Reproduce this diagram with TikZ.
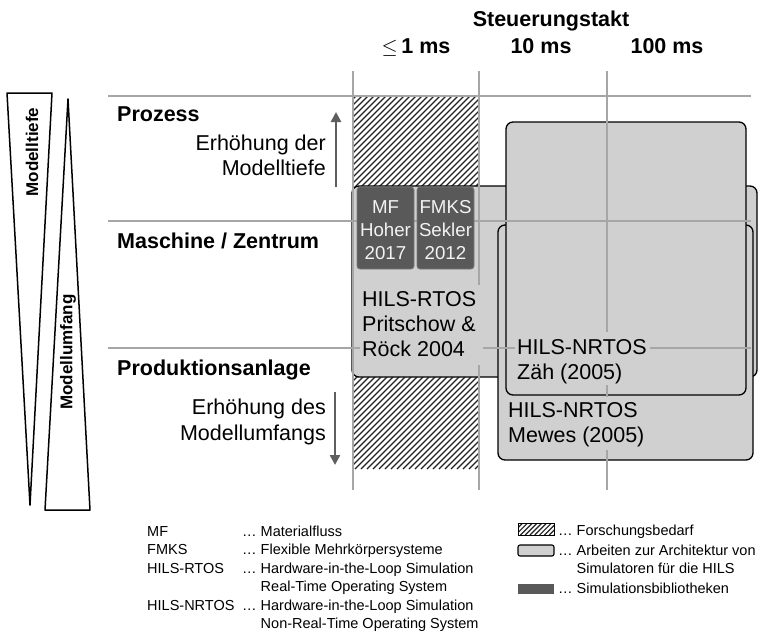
\documentclass[tikz,border=0pt]{standalone}
\usepackage{fontspec}
\setmainfont{Liberation Sans}
\usetikzlibrary{arrows.meta}
\definecolor{gridgray}{HTML}{A6A6A6}
\definecolor{boxgray}{HTML}{D0D0D0}
\definecolor{libgray}{HTML}{595959}
\definecolor{libedge}{HTML}{7A7A7A}
\definecolor{libtextcol}{HTML}{F2F2F2}
\definecolor{arrowgray}{HTML}{5E5E5E}
\definecolor{hatchink}{HTML}{222222}
\begin{document}
\begin{tikzpicture}[x=1pt,y=-1pt,
  gridline/.style={draw=gridgray, line width=1.3pt},
  studybox/.style={draw=black, line width=1.3pt, fill=boxgray, rounded corners=7pt},
  libbox/.style={draw=libedge, line width=0.8pt, fill=libgray, rounded corners=3pt},
  hatchline/.style={line width=1.35pt, hatchink},
  bgpatch/.style={fill=boxgray},
  big/.style={font=\fontsize{21.5}{25}\selectfont, inner sep=0pt},
  bigbf/.style={font=\fontsize{21.5}{25}\selectfont\bfseries, inner sep=0pt},
  libtext/.style={font=\fontsize{18.7}{23}\selectfont, text=libtextcol, inner sep=0pt, anchor=base},
  legend/.style={font=\fontsize{14.5}{18}\selectfont, inner sep=0pt, anchor=base west},
  trend/.style={line width=2.4pt, draw=arrowgray, -{Triangle[width=10pt,length=10pt]}},
  wedge/.style={draw=black, line width=1.5pt, line join=round},
  wedgetext/.style={font=\fontsize{17}{20}\selectfont\bfseries, inner sep=0pt, rotate=90},
]
\useasboundingbox (0,0) rectangle (758,632);

% research gap: hatched column below 1 ms
\begin{scope}
  \clip (353,96) rectangle (479,469);
  \foreach \k in {0,...,88} {
    \draw[hatchline] ({\k*6-47},469) -- ++(400,-400);
  }
\end{scope}

% simulator architecture works
\draw[studybox] (352,186) rectangle (757,377);
\draw[studybox] (498,225) rectangle (753,460);
\draw[studybox] (506,122) rectangle (746,395);

% grid of levels and control cycles
\draw[gridline] (108,96) -- (751,96);
\draw[gridline] (108,221) -- (751,221);
\draw[gridline] (108,348) -- (751,348);
\draw[gridline] (353,71) -- (353,490);
\draw[gridline] (479,71) -- (479,490);
\draw[gridline] (607,71) -- (607,490);

% simulation libraries
\draw[libbox] (357,187) rectangle (414,269);
\draw[libbox] (417,187) rectangle (474,269);
\node[libtext] (mfa) at (385.5,213.5) {MF};
\node[libtext] (mfb) at (385.5,236.5) {Hoher};
\node[libtext] (mfc) at (385.5,259) {2017};
\node[libtext] (fma) at (445.5,213.5) {FMKS};
\node[libtext] (fmb) at (445.5,236.5) {Sekler};
\node[libtext] (fmc) at (445.5,259) {2012};

% labels of the architecture works
\fill[bgpatch] (360,285) rectangle (483,365);
\fill[bgpatch] (515,332) rectangle (650,385);
\fill[bgpatch] (505,397) rectangle (650,450);
\node[big, anchor=base west] (rta) at (362,306.7) {HILS-RTOS};
\node[big, anchor=base west] (rtb) at (362,331.7) {Pritschow \&};
\node[big, anchor=base west] (rtc) at (362,356.7) {Röck 2004};
\node[big, anchor=base west] (zaa) at (517,354.5) {HILS-NRTOS};
\node[big, anchor=base west] (zab) at (517,379.5) {Zäh (2005)};
\node[big, anchor=base west] (mea) at (508,417.5) {HILS-NRTOS};
\node[big, anchor=base west] (meb) at (508,442.5) {Mewes (2005)};

% column header
\node[bigbf, anchor=base] (takt) at (551,26) {Steuerungstakt};
\node[bigbf, anchor=base] (c1) at (416,53) {$\leq$\,1 ms};
\node[bigbf, anchor=base] (c2) at (541,53) {10 ms};
\node[bigbf, anchor=base] (c3) at (667,53) {100 ms};

% row labels
\node[bigbf, anchor=base west] (r1) at (117,121) {Prozess};
\node[bigbf, anchor=base west] (r2) at (117,248) {Maschine / Zentrum};
\node[bigbf, anchor=base west] (r3) at (117,375) {Produktionsanlage};
\node[big, anchor=base east] (upa) at (326,150.5) {Erhöhung der};
\node[big, anchor=base east] (upb) at (326,175.5) {Modelltiefe};
\node[big, anchor=base east] (dna) at (326,414.5) {Erhöhung des};
\node[big, anchor=base east] (dnb) at (326,440) {Modellumfangs};
\coordinate (upfrom) at (336,187);
\coordinate (upto) at (336,112);
\coordinate (dnfrom) at (335,392);
\coordinate (dnto) at (335,465);
\draw[trend] (upfrom) -- (upto);
\draw[trend] (dnfrom) -- (dnto);

% wedges for model depth and model scope
\draw[wedge] (7,93) -- (52,93) -- (30,505) -- cycle;
\draw[wedge] (68,99) -- (90,510) -- (45,510) -- cycle;
\node[wedgetext] (tiefe) at (32,152) {Modelltiefe};
\node[wedgetext] (umfang) at (68,352) {Modellumfang};

% legend: abbreviations
\node[legend] (la1) at (147,536) {MF};
\node[legend] (la2) at (147,554.5) {FMKS};
\node[legend] (la3) at (147,573) {HILS-RTOS};
\node[legend] (la4) at (147,610) {HILS-NRTOS};
\node[legend] (lb1) at (242,536) {… Materialfluss};
\node[legend] (lb2) at (242,554.5) {… Flexible Mehrkörpersysteme};
\node[legend] (lb3) at (242,573) {… Hardware-in-the-Loop Simulation};
\node[legend] (lb4) at (242,591.5) {\phantom{… }Real-Time Operating System};
\node[legend] (lb5) at (242,610) {… Hardware-in-the-Loop Simulation};
\node[legend] (lb6) at (242,628.5) {\phantom{… }Non-Real-Time Operating System};

% legend: area types
\begin{scope}
  \clip (518,523) rectangle (554,535);
  \foreach \k in {0,...,12} {
    \draw[line width=1.2pt, hatchink] ({506+\k*4.8},535) -- ++(14,-14);
  }
\end{scope}
\draw[line width=0.7pt] (518,523) rectangle (554,535);
\draw[studybox, rounded corners=2pt, line width=1.1pt] (518,545) rectangle (554,556);
\fill[libgray] (518,584) rectangle (554,594);
\node[legend] (lc1) at (558,535) {… Forschungsbedarf};
\node[legend] (lc2) at (558,555) {… Arbeiten zur Architektur von};
\node[legend] (lc3) at (558,573.5) {\phantom{… }Simulatoren für die HILS};
\node[legend] (lc4) at (558,593) {… Simulationsbibliotheken};
\end{tikzpicture}
\end{document}
